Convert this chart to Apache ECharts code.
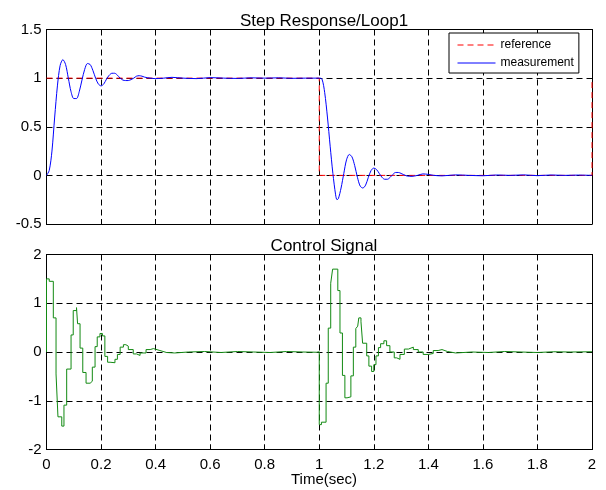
<!DOCTYPE html>
<html lang="en">
<head>
    <meta charset="UTF-8">
    <title>Step Response/Loop1</title>
    <script src="https://cdn.jsdelivr.net/npm/echarts@6/dist/echarts.min.js"></script>
    <style>
        * { margin: 0; padding: 0; }
        body { background: #fff; }
        #main { width: 606px; height: 490px; }
    </style>
</head>
<body>
<div id="main"></div>
<script>
    // reference step (time, value)
    const refTime = [0, 1, 1, 2, 2];
    const refValue = [1, 1, 0, 0, 1];

    const measTime = [0, 0.01, 0.02, 0.03, 0.04, 0.05, 0.06, 0.07, 0.08, 0.09,
        0.10, 0.11, 0.12, 0.13, 0.14, 0.15, 0.16, 0.17, 0.18, 0.19,
        0.20, 0.21, 0.22, 0.23, 0.24, 0.25, 0.26, 0.27, 0.28, 0.29,
        0.30, 0.31, 0.32, 0.33, 0.34, 0.35, 0.36, 0.38, 0.40, 0.43,
        0.46, 0.50, 0.55, 0.60, 0.65, 0.70, 0.75, 0.80, 0.85, 0.90, 0.95, 1.00,
        1.01, 1.02, 1.03, 1.04, 1.05, 1.06, 1.065, 1.07, 1.08, 1.09,
        1.10, 1.11, 1.12, 1.13, 1.14, 1.15, 1.16, 1.17, 1.18, 1.19,
        1.20, 1.21, 1.22, 1.23, 1.24, 1.25, 1.26, 1.27, 1.28, 1.29,
        1.30, 1.32, 1.34, 1.36, 1.38, 1.40, 1.42, 1.45, 1.50, 1.55,
        1.60, 1.65, 1.70, 1.75, 1.80, 1.85, 1.90, 1.95, 2.00];
    const measValue = [0, 0.05, 0.25, 0.6, 0.92, 1.13, 1.19, 1.14, 1.0, 0.86,
        0.79, 0.79, 0.86, 0.98, 1.09, 1.15, 1.14, 1.08, 1.0, 0.94,
        0.92, 0.94, 0.99, 1.03, 1.05, 1.05, 1.03, 1.0, 0.98, 0.975,
        0.975, 0.985, 1.0, 1.02, 1.025, 1.02, 1.01, 1.0, 0.995, 1.0,
        1.008, 1.0, 0.995, 1.005, 1.0, 0.997, 1.003, 1.0, 1.003, 0.998, 1.0, 1.0,
        0.99, 0.85, 0.6, 0.3, 0.02, -0.2, -0.25, -0.24, -0.13, 0.02,
        0.16, 0.215, 0.19, 0.1, -0.02, -0.11, -0.13, -0.1, -0.02, 0.05,
        0.075, 0.06, 0.02, -0.02, -0.04, -0.04, -0.02, 0.01, 0.03, 0.03,
        0.02, -0.005, -0.01, 0.0, 0.015, 0.01, 0.0, -0.005, 0.005, 0.0,
        -0.004, 0.004, 0.0, 0.005, -0.003, 0.004, 0.0, 0.003, 0.0];

    // control signal, held between samples
    const ctrlTime = [0, 0, 0.01, 0.025, 0.035, 0.042, 0.056, 0.064, 0.074, 0.09,
        0.098, 0.11, 0.114, 0.123, 0.133, 0.145, 0.16, 0.168, 0.178, 0.186,
        0.196, 0.205, 0.214, 0.224, 0.233, 0.251, 0.26, 0.27, 0.282, 0.291,
        0.30, 0.318, 0.33, 0.343, 0.365, 0.38, 0.392, 0.416, 0.44, 0.47,
        0.52, 0.58, 0.64, 0.70, 0.76, 0.82, 0.88, 0.94, 0.99,
        1.0, 1.008, 1.025, 1.033, 1.042, 1.049, 1.068, 1.076, 1.085, 1.094,
        1.102, 1.116, 1.125, 1.134, 1.141, 1.145, 1.153, 1.159, 1.174, 1.182,
        1.192, 1.2, 1.208, 1.217, 1.225, 1.237, 1.247, 1.259, 1.275, 1.284,
        1.296, 1.312, 1.327, 1.345, 1.363, 1.381, 1.40, 1.418, 1.436, 1.45,
        1.47, 1.50, 1.56, 1.62, 1.68, 1.74, 1.80, 1.86, 1.92, 2.0];
    const ctrlValue = [0, 1.5, 1.45, 0.70, -0.45, -1.33, -1.52, -1.09, -0.35, 0.35,
        0.85, 0.91, 0.58, 0.08, -0.42, -0.64, -0.6, -0.31, 0.11, 0.31,
        0.38, 0.33, -0.09, -0.21, -0.22, -0.15, -0.05, 0.10, 0.15, 0.12,
        0.05, -0.04, -0.07, -0.02, 0.05, 0.07, 0.03, -0.01, -0.02, 0.0,
        0.01, -0.01, 0.01, 0.0, -0.01, 0.01, 0.0, -0.005, 0.005,
        -1.49, -1.44, -0.64, 0.49, 1.41, 1.70, 1.26, 0.39, -0.48, -0.94,
        -0.92, -0.49, 0.1, 0.48, 0.53, 0.70, 0.62, 0.18, -0.08, -0.29,
        -0.40, -0.26, -0.08, 0.09, 0.17, 0.23, 0.13, 0.0, -0.12, -0.15,
        -0.05, 0.06, 0.1, 0.05, 0.0, -0.05, -0.03, 0.03, 0.05, 0.01,
        -0.02, 0.0, -0.01, 0.01, 0.0, -0.01, 0.005, 0.0, 0.005, 0.0];

    const xTicks = { min: 0, max: 2, interval: 0.2 };
    const topYTicks = { min: -0.5, max: 1.5, interval: 0.5 };
    const bottomYTicks = { min: -2, max: 2, interval: 1 };

    const font = 'Liberation Sans, Arial, sans-serif';

    function pairs(t, v) {
        return t.map((x, i) => [x, v[i]]);
    }

    const gridLine = {
        show: true,
        lineStyle: { color: '#000', width: 1, type: [6, 4] }
    };
    const frame = { show: true, onZero: false, lineStyle: { color: '#000', width: 1 } };
    const tick = { show: true, inside: true, length: 5, lineStyle: { color: '#000' } };

    function xAx(gridIndex, position, labels) {
        return {
            type: 'value', gridIndex: gridIndex, position: position,
            min: xTicks.min, max: xTicks.max, interval: xTicks.interval,
            axisLine: frame, axisTick: tick,
            splitLine: position === 'bottom' ? gridLine : { show: false },
            axisLabel: {
                show: labels, color: '#000', fontSize: 15, fontFamily: font, margin: 8,
                formatter: v => String(Math.round(v * 10) / 10)
            }
        };
    }
    function yAx(gridIndex, position, ticks) {
        return {
            type: 'value', gridIndex: gridIndex, position: position,
            min: ticks.min, max: ticks.max, interval: ticks.interval,
            axisLine: frame, axisTick: tick,
            splitLine: position === 'left' ? gridLine : { show: false },
            axisLabel: {
                show: position === 'left', color: '#000', fontSize: 15, fontFamily: font, margin: 5,
                formatter: v => String(Math.round(v * 10) / 10)
            }
        };
    }

    const chart = echarts.init(document.getElementById('main'));
    chart.setOption({
        animation: false,
        backgroundColor: '#fff',
        title: [{
            text: 'Step Response/Loop1', left: 319, top: 8, textAlign: 'center',
            textStyle: { color: '#000', fontSize: 17, fontWeight: 'normal', fontFamily: font }
        }, {
            text: 'Control Signal', left: 319, top: 233, textAlign: 'center',
            textStyle: { color: '#000', fontSize: 17, fontWeight: 'normal', fontFamily: font }
        }, {
            text: 'Time(sec)', left: 319, top: 467, textAlign: 'center',
            textStyle: { color: '#000', fontSize: 15, fontWeight: 'normal', fontFamily: font }
        }],
        legend: {
            left: 449, top: 33, orient: 'vertical',
            backgroundColor: '#fff', borderColor: '#000', borderWidth: 1,
            padding: [6, 5, 4, 8], itemWidth: 38, itemHeight: 14, itemGap: 6,
            itemStyle: { opacity: 0 },
            lineStyle: { width: 1 },
            textStyle: { color: '#000', fontSize: 12, fontFamily: font },
            data: ['reference', 'measurement']
        },
        grid: [
            { left: 46.5, right: 14, top: 29.5, height: 194.5 },
            { left: 46.5, right: 14, top: 254.5, height: 195 }
        ],
        xAxis: [xAx(0, 'bottom', false), xAx(0, 'top', false), xAx(1, 'bottom', true), xAx(1, 'top', false)],
        yAxis: [yAx(0, 'left', topYTicks), yAx(0, 'right', topYTicks), yAx(1, 'left', bottomYTicks), yAx(1, 'right', bottomYTicks)],
        series: [{
            name: 'reference', type: 'line', xAxisIndex: 0, yAxisIndex: 0,
            symbol: 'none', data: pairs(refTime, refValue),
            lineStyle: { color: '#ff0000', width: 1, type: [6, 4] },
            itemStyle: { color: '#ff0000' }
        }, {
            name: 'measurement', type: 'line', xAxisIndex: 0, yAxisIndex: 0,
            symbol: 'none', smooth: 0.3, data: pairs(measTime, measValue),
            lineStyle: { color: '#0000ff', width: 1 },
            itemStyle: { color: '#0000ff' }
        }, {
            name: 'control', type: 'line', xAxisIndex: 2, yAxisIndex: 2,
            symbol: 'none', step: 'end', data: pairs(ctrlTime, ctrlValue),
            lineStyle: { color: '#138a13', width: 1 },
            itemStyle: { color: '#138a13' }
        }]
    });
</script>
</body>
</html>
